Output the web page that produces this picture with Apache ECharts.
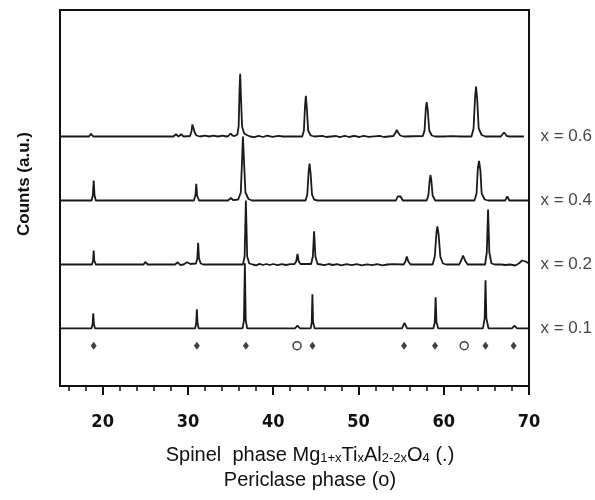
<!DOCTYPE html>
<html>
<head>
<meta charset="utf-8">
<script src="https://cdn.jsdelivr.net/npm/echarts@6/dist/echarts.min.js"></script>
<style>
html,body{margin:0;padding:0;background:#fff;}
#chart{width:595px;height:500px;}
</style>
</head>
<body>
<div id="chart"></div>
<script>
// ---- data (2θ in degrees, counts in arbitrary units above each trace baseline) ----
const sampleLabels = ['x = 0.1', 'x = 0.2', 'x = 0.4', 'x = 0.6'];
const baselines = [57.7, 121.5, 185.5, 249.5];
const markerRow = 40.3;
const majorTicks = [20, 30, 40, 50, 60, 70];
const minorTicks = [16, 18, 22, 24, 26, 28, 32, 34, 36, 38, 42, 44, 46, 48, 52, 54, 56, 58, 62, 64, 66, 68];
const spinelPeaks = [18.95, 31.05, 36.8, 44.6, 55.35, 58.98, 64.9, 68.2];
const periclasePeaks = [42.8, 62.4];

const trace01 = [
  [15,0],[18.7,0],[18.82,4],[18.9,15],[18.98,4],[19.1,0],
  [30.85,0],[30.97,5],[31.05,19],[31.13,5],[31.25,0],
  [36.4,0],[36.57,8],[36.68,65],[36.78,8],[36.95,0],
  [42.55,0],[42.85,2.6],[43.15,0],
  [44.4,0],[44.52,6],[44.6,34],[44.68,6],[44.85,0],
  [55.1,0],[55.4,5.5],[55.7,0],
  [58.8,0],[58.95,6],[59.05,31],[59.15,6],[59.35,0],
  [64.6,0],[64.8,10],[64.9,48],[65.0,10],[65.25,0],
  [68.0,0],[68.3,2.6],[68.6,0],[70,0]
];
const trace02 = [
  [15,0],[18.75,0],[18.88,4],[18.95,14],[19.02,4],[19.2,0],
  [24.8,0],[25.0,2.5],[25.3,0],
  [28.5,0],[28.8,2.2],[29.1,-0.5],[29.5,0],[29.9,2.2],[30.3,0.5],
  [30.95,1],[31.1,6],[31.2,21.7],[31.3,6],[31.5,1],[31.8,0],
  [36.45,0],[36.65,8],[36.8,64],[36.95,8],[37.2,1],[37.6,0],[38.0,-0.8],[38.4,0.6],[38.8,-0.5],[39.2,0.5],[39.6,-0.5],[40.0,0.5],[40.5,-0.6],[41.0,0.4],[41.5,-0.5],[42.0,0.3],[42.5,0.5],
  [42.7,3],[42.85,10.5],[43.0,3],[43.2,0.5],
  [44.45,0.5],[44.65,8],[44.8,33.3],[44.95,8],[45.2,0.5],[45.6,0],[46,-0.6],[46.5,0.5],[47,-0.5],[47.5,0.3],[48,-0.8],[48.6,0.3],[49.2,-0.6],[49.8,0.3],[50.4,-0.8],[51,0.2],[51.6,-0.6],[52.2,0.3],[52.8,-0.8],[53.4,0],[54,0.3],[55.3,0],
  [55.5,3],[55.67,8],[55.85,3],[56.1,0],
  [58.7,0],[58.95,8],[59.15,32],[59.26,38],[59.4,30],[59.6,8],[59.9,1],[60.3,0],
  [61.8,0],[62.05,4],[62.27,9],[62.5,4],[62.8,0],
  [64.85,0],[65.05,12],[65.2,55],[65.35,12],[65.6,1],[66,0],
  [66.8,0],[67.2,-0.5],[67.8,0],[68.4,-1],[68.8,1],[69.2,4],[69.4,5],[69.6,3],[70,1]
];
const trace04 = [
  [15,0],[18.7,0],[18.85,5],[18.95,20],[19.05,5],[19.2,0],
  [30.7,0],[30.88,5],[30.98,16.7],[31.08,5],[31.3,0],
  [34.7,0],[35.04,2.5],[35.3,0.3],
  [35.9,1],[36.2,8],[36.35,40],[36.45,64],[36.6,35],[36.75,8],[37.1,1.5],[37.5,0],
  [43.8,0],[44.0,6],[44.15,28],[44.26,37],[44.4,26],[44.55,6],[44.8,0.8],[45.2,0],
  [54.4,0],[54.6,4],[54.77,6],[54.95,4],[55.2,0],
  [58.0,0],[58.2,5],[58.35,20],[58.44,25.5],[58.55,20],[58.7,5],[59.0,0],
  [63.6,0],[63.85,7],[64.0,32],[64.14,39.5],[64.3,30],[64.45,7],[64.8,1],[65.2,0],
  [67.2,0],[67.46,4],[67.7,0],[70,0]
];
const trace06 = [
  [15,0],[18.4,0],[18.55,2],[18.63,2.7],[18.75,2],[18.9,0],
  [28.3,0],[28.6,2.2],[28.9,0],[29.2,2.2],[29.5,0],
  [30.25,0.5],[30.42,5],[30.52,12],[30.6,14],[30.7,11],[30.8,4],[31.0,1],[31.4,0],
  [32,0.8],[32.5,0],[33,0.8],[33.5,0],[34.1,0.8],[34.5,0],
  [34.75,0.5],[35.0,3],[35.25,0.8],[35.5,0.5],
  [35.8,2],[35.95,10],[36.05,45],[36.13,62.7],[36.22,40],[36.35,10],[36.6,3],[36.9,1.5],[37.3,0],
  [37.8,-0.7],[38.3,0.6],[38.8,-0.5],[39.3,0.8],[39.9,-0.4],[40.6,0.7],[41.2,0],
  [43.4,0],[43.6,6],[43.73,30],[43.83,40.7],[43.95,28],[44.1,6],[44.4,1],[44.8,0],
  [45.8,0.6],[46.2,-0.5],[47.4,0.5],[47.8,-0.6],[48.4,0.6],[48.9,-0.5],[49.5,0.7],[50.1,-0.5],[50.6,0.6],[51.2,-0.4],[52.5,0.6],[53.0,-0.5],[53.5,0],
  [54.1,0.5],[54.35,4],[54.5,6.7],[54.65,4],[54.9,1],[55.3,0],
  [57.55,0.5],[57.75,6],[57.9,28],[58.0,34.4],[58.12,27],[58.3,6],[58.6,1],[59,0],
  [60,0],[61,0.4],[62,0],
  [63.25,0],[63.5,8],[63.68,40],[63.79,50],[63.92,38],[64.1,8],[64.45,1.5],[64.9,0],
  [66.7,0],[67.07,4],[67.4,0.5],[67.7,0],[69.4,0]
];
const traces = [trace01, trace02, trace04, trace06];

// ---- chart ----
const chart = echarts.init(document.getElementById('chart'), null, {renderer: 'canvas'});
const lineColor = '#1a1a1a';
const tickFont = '"DejaVu Sans Condensed", "Liberation Sans", sans-serif';

const series = [];
traces.forEach((t, i) => {
  series.push({
    type: 'line',
    name: sampleLabels[i],
    data: t.map(p => [p[0], p[1] + baselines[i]]),
    showSymbol: false,
    symbol: 'none',
    lineStyle: {color: lineColor, width: 1.8},
    z: 3,
    animation: false
  });
});
series.push({
  type: 'scatter',
  name: 'labels',
  data: baselines.map((b, i) => ({value: [70, b], label: {formatter: sampleLabels[i]}})),
  symbolSize: 1,
  itemStyle: {color: 'rgba(0,0,0,0)'},
  label: {
    show: true, position: 'right', distance: 11,
    fontFamily: 'Liberation Sans', fontSize: 17, color: '#111'
  },
  clip: false,
  animation: false
});
series.push({
  type: 'scatter',
  name: 'spinel',
  data: spinelPeaks.map(v => [v, markerRow]),
  symbol: 'diamond',
  symbolSize: [6, 8],
  itemStyle: {color: '#111'},
  animation: false
});
series.push({
  type: 'scatter',
  name: 'periclase',
  data: periclasePeaks.map(v => [v, markerRow]),
  symbol: 'circle',
  symbolSize: 8,
  itemStyle: {color: '#fff', borderColor: '#111', borderWidth: 1.5},
  animation: false
});

const option = {
  backgroundColor: '#fff',
  animation: false,
  title: [
    {
      text: '{m|Spinel  phase Mg}{s|1+x}{m|Ti}{s|x}{m|Al}{s|2-2x}{m|O}{s|4}{m| (.)}',
      left: 305, top: 436, textAlign: 'center',
      textStyle: {
        fontWeight: 'normal',
        rich: {
          m: {fontFamily: 'Liberation Sans', fontSize: 20, fontWeight: 'normal', color: '#111', lineHeight: 24, verticalAlign: 'bottom'},
          s: {fontFamily: 'Liberation Sans', fontSize: 13, fontWeight: 'normal', color: '#111', lineHeight: 14, verticalAlign: 'bottom'}
        }
      }
    },
    {
      text: 'Periclase phase (o)',
      left: 305, top: 465, textAlign: 'center',
      textStyle: {fontFamily: 'Liberation Sans', fontSize: 20, fontWeight: 'normal', color: '#111'}
    }
  ],
  grid: {
    left: 60, right: 66, top: 10, bottom: 114,
    show: true, borderColor: '#111', borderWidth: 2, backgroundColor: 'transparent'
  },
  xAxis: [
    {
      type: 'value', min: 15, max: 70, position: 'bottom',
      axisLine: {show: true, lineStyle: {color: '#111', width: 2}},
      axisTick: {show: true, customValues: majorTicks, length: 9, inside: false, lineStyle: {color: '#111', width: 2}},
      axisLabel: {show: true, customValues: majorTicks, margin: 27, fontFamily: tickFont, fontWeight: 'bold', fontSize: 18, color: '#111'},
      splitLine: {show: false}
    },
    {
      type: 'value', min: 15, max: 70, position: 'bottom',
      axisLine: {show: false},
      axisTick: {show: true, customValues: minorTicks, length: 5, inside: false, lineStyle: {color: '#111', width: 1.5}},
      axisLabel: {show: false},
      splitLine: {show: false}
    }
  ],
  yAxis: {
    type: 'value', min: 0, max: 376,
    axisLine: {show: true, lineStyle: {color: '#111', width: 2}},
    axisTick: {show: false},
    axisLabel: {show: false},
    splitLine: {show: false},
    name: 'Counts (a.u.)',
    nameLocation: 'middle',
    nameRotate: 90,
    nameGap: 27,
    nameTextStyle: {fontFamily: 'Liberation Sans', fontWeight: 'bold', fontSize: 17, color: '#111', padding: [0, 0, 0, 28]}
  },
  series: series
};
chart.setOption(option);
</script>
</body>
</html>
